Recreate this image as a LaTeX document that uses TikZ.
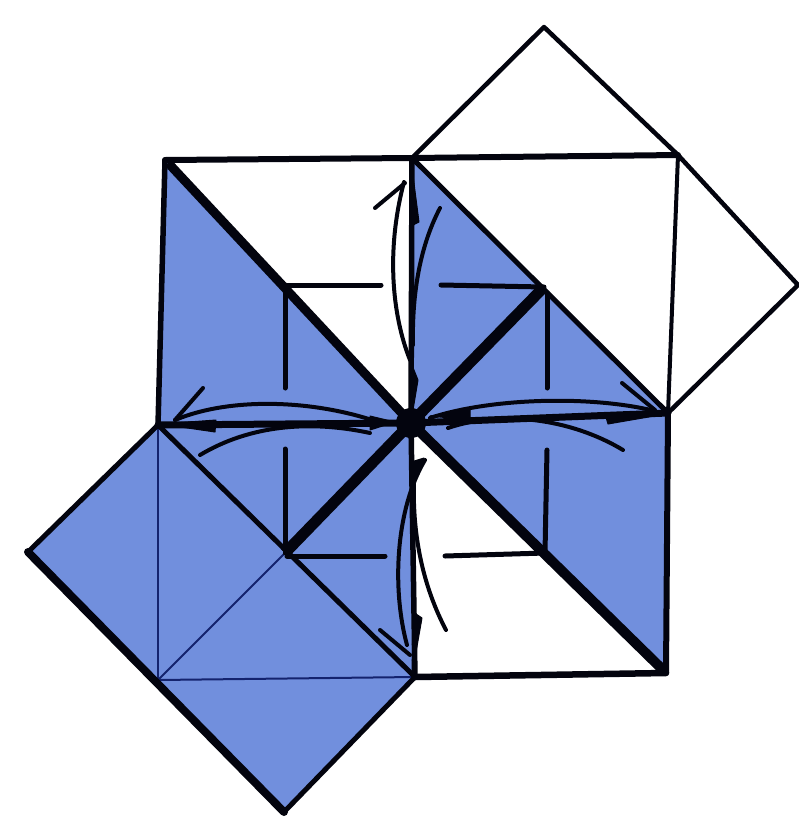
\documentclass[tikz,border=0pt]{standalone}
\definecolor{paper}{RGB}{113,143,221}
\definecolor{ink}{RGB}{3,4,14}
\definecolor{thinink}{RGB}{20,35,110}
\tikzset{
  edge/.style={draw=ink,line width=#1,line cap=round,line join=round},
  edge/.default=4.5pt,
  arcline/.style={draw=ink,line width=4pt,line cap=round},
  crease/.style={draw=thinink,line width=2pt},
  wedge/.style={fill=ink,draw=ink,line width=1pt,line join=round}
}
\begin{document}
\begin{tikzpicture}[x=1pt,y=-1pt]
\useasboundingbox (0,0) rectangle (799,820);
\coordinate (TL) at (165,160);
\coordinate (TLi) at (171,166);
\coordinate (TM) at (412,158);
\coordinate (TR) at (678,155);
\coordinate (RM) at (668,413);
\coordinate (BR) at (666,673);
\coordinate (BRi) at (661,668);
\coordinate (BM) at (415,677);
\coordinate (LM) at (158,425);
\coordinate (C) at (411,423);
\coordinate (DT) at (544,27);
\coordinate (DR) at (798,285);
\coordinate (DL) at (28,552);
\coordinate (DB) at (284,812);
\coordinate (LL) at (158,680);
\coordinate (Q1) at (285,285);
\coordinate (Q2) at (544,287);
\coordinate (Q3) at (285,553);
\coordinate (Q4) at (545,553);
% blue faces
\fill[paper] (TL) -- (C) -- (LM) -- cycle;
\fill[paper] (TM) -- (RM) -- (C) -- cycle;
\fill[paper] (C) -- (RM) -- (BR) -- cycle;
\fill[paper] (C) -- (BM) -- (DB) -- (DL) -- (LM) -- cycle;
% thin creases
\path[crease] (LM) -- (LL);
\path[crease] (LL) -- (Q3);
\path[crease] (LL) -- (BM);
% outline
\path[edge=6pt] (TL) -- (TM) -- (TR);
\path[edge=5.5pt] (TL) -- (LM);
\path[edge=4pt] (TR) -- (RM);
\path[edge=6pt] (RM) -- (BR);
\path[edge=6.5pt] (BR) -- (BM);
\path[edge] (TM) -- (DT) -- (TR) -- (DR) -- (RM);
\path[edge=8pt] (DL) -- (DB);
\path[edge=5pt] (LM) -- (DL);
\path[edge=5pt] (DB) -- (BM);
% diagonals
\path[edge=9pt] (TLi) -- (C);
\path[edge=10pt] (C) -- (BRi);
\path[edge=5pt] (TM) -- (RM);
\path[edge=5pt] (LM) -- (BM);
\path[edge=11pt,line cap=butt] (Q3) -- (C);
\path[edge=11pt,line cap=butt] (Q2) -- (C);
\fill[ink] (C) circle (15pt);
% short folds
\path[edge=5pt] (Q1) -- (381,285);
\path[edge=5pt] (Q1) -- (285,388);
\path[edge=5pt] (441,285) -- (Q2);
\path[edge=5pt] (547,293) -- (547,388);
\path[edge=5pt] (285,449) -- (Q3);
\path[edge=5pt] (287,556) -- (385,556);
\path[edge=5pt] (547,450) -- (Q4);
\path[edge=5pt] (445,556) -- (Q4);
% crossing folds
\path[edge=5.5pt] (TM) -- (C) -- (BM);
\path[edge=7pt] (LM) -- (C) -- (RM);
% up arrow
\path[arcline] (404,182) .. controls (386,250) and (392,315) .. (410,360);
\path[arcline] (375,208) -- (405,183);
\path[wedge] (411,160) -- (419,222) -- (411,226) -- cycle;
\path[arcline] (440,208) .. controls (418,250) and (412,300) .. (413,345);
\path[wedge] (410,360) -- (418,380) -- (413,410) -- cycle;
% right arrow
\path[arcline] (430,418) .. controls (490,398) and (590,395) .. (655,411);
\path[arcline] (622,383) -- (655,410);
\path[wedge] (666,414) -- (608,424) -- (605,414) -- cycle;
\path[arcline] (448,428) .. controls (500,410) and (570,418) .. (623,450);
\path[wedge] (430,416) -- (470,410) -- (470,420) -- cycle;
% left arrow
\path[arcline] (175,420) .. controls (230,397) and (310,400) .. (372,420);
\path[arcline] (203,388) -- (175,420);
\path[wedge] (160,424) -- (216,420) -- (215,432) -- cycle;
\path[arcline] (200,455) .. controls (250,425) and (310,420) .. (370,433);
\path[wedge] (370,416) -- (395,422) -- (370,430) -- cycle;
% down arrow
\path[arcline] (425,460) .. controls (395,510) and (392,590) .. (407,645);
\path[arcline] (380,630) -- (410,655);
\path[wedge] (412,675) -- (422,618) -- (413,612) -- cycle;
\path[arcline] (414,480) .. controls (412,540) and (425,590) .. (446,630);
\path[wedge] (424,458) -- (411,462) -- (412,490) -- cycle;
\end{tikzpicture}
\end{document}
